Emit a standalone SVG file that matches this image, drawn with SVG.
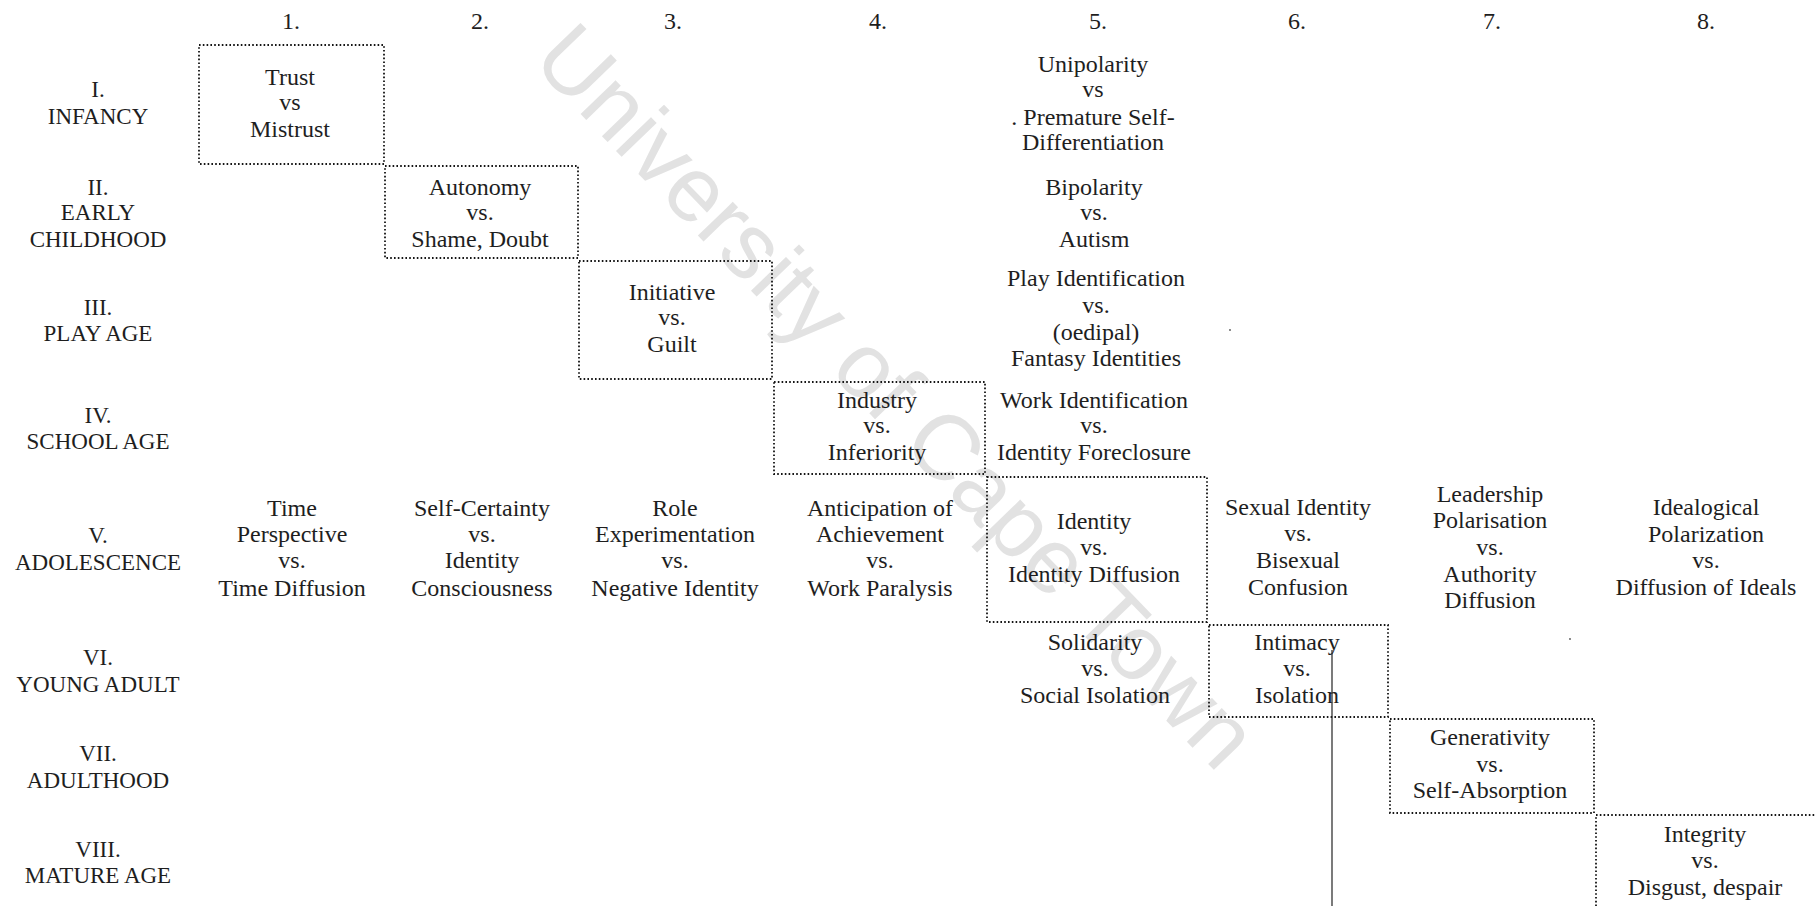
<svg xmlns="http://www.w3.org/2000/svg" width="1815" height="906" viewBox="0 0 1815 906">
<style>
text{font-family:"Liberation Serif","Times New Roman",serif;fill:#1e1e1e;text-anchor:middle}
.c{font-size:24px}
.r{font-size:23px}
.h{font-size:24px}
.box{fill:none;stroke:#151515;stroke-width:1.8;stroke-dasharray:1.6 2.2}
.wm{font-family:"Liberation Sans",Arial,sans-serif;font-size:92px;fill:#e2e2e2}
.ln{stroke:#222;stroke-width:1.2;fill:none}
</style>
<rect width="1815" height="906" fill="#ffffff"/>
<g id="watermark"><text class="wm" transform="translate(874 418) rotate(46)" x="0" y="0">University of Cape Town</text></g>
<g id="headers" class="h">
<text x="291" y="29">1.</text>
<text x="480" y="29">2.</text>
<text x="673" y="29">3.</text>
<text x="878" y="29">4.</text>
<text x="1098" y="29">5.</text>
<text x="1297" y="29">6.</text>
<text x="1492" y="29">7.</text>
<text x="1706" y="29">8.</text>
</g>
<g id="rowlabels" class="r">
<text x="98" y="97">I.</text><text x="98" y="124">INFANCY</text>
<text x="98" y="195">II.</text><text x="98" y="220">EARLY</text><text x="98" y="247">CHILDHOOD</text>
<text x="98" y="315">III.</text><text x="98" y="341">PLAY AGE</text>
<text x="98" y="423">IV.</text><text x="98" y="449">SCHOOL AGE</text>
<text x="98" y="543">V.</text><text x="98" y="570">ADOLESCENCE</text>
<text x="98" y="665">VI.</text><text x="98" y="692">YOUNG ADULT</text>
<text x="98" y="761">VII.</text><text x="98" y="788">ADULTHOOD</text>
<text x="98" y="857">VIII.</text><text x="98" y="883">MATURE AGE</text>
</g>
<g id="trust" class="c">
<rect class="box" x="199" y="45" width="185" height="119"/>
<text x="290" y="85">Trust</text><text x="290" y="110">vs</text><text x="290" y="137">Mistrust</text>
</g>
<g id="autonomy" class="c">
<rect class="box" x="385" y="166" width="193" height="92"/>
<text x="480" y="195">Autonomy</text><text x="480" y="220">vs.</text><text x="480" y="247">Shame, Doubt</text>
</g>
<g id="initiative" class="c">
<rect class="box" x="579" y="261" width="193" height="118"/>
<text x="672" y="300">Initiative</text><text x="672" y="325">vs.</text><text x="672" y="352">Guilt</text>
</g>
<g id="industry" class="c">
<rect class="box" x="774" y="382" width="211" height="92"/>
<text x="877" y="408">Industry</text><text x="877" y="433">vs.</text><text x="877" y="460">Inferiority</text>
</g>
<g id="identity" class="c">
<rect class="box" x="987" y="477" width="220" height="145"/>
<text x="1094" y="529">Identity</text><text x="1094" y="555">vs.</text><text x="1094" y="582">Identity Diffusion</text>
</g>
<g id="intimacy" class="c">
<rect class="box" x="1209" y="625" width="179" height="92"/>
<text x="1297" y="650">Intimacy</text><text x="1297" y="676">vs.</text><text x="1297" y="703">Isolation</text>
</g>
<g id="generativity" class="c">
<rect class="box" x="1390" y="719" width="204" height="94"/>
<text x="1490" y="745">Generativity</text><text x="1490" y="772">vs.</text><text x="1490" y="798">Self-Absorption</text>
</g>
<g id="integrity" class="c">
<rect class="box" x="1596" y="815" width="260" height="120"/>
<text x="1705" y="842">Integrity</text><text x="1705" y="868">vs.</text><text x="1705" y="895">Disgust, despair</text>
</g>
<g id="unipolarity" class="c">
<text x="1093" y="72">Unipolarity</text><text x="1093" y="97">vs</text><text x="1093" y="125">. Premature Self-</text><text x="1093" y="150">Differentiation</text>
</g>
<g id="bipolarity" class="c">
<text x="1094" y="195">Bipolarity</text><text x="1094" y="220">vs.</text><text x="1094" y="247">Autism</text>
</g>
<g id="play-identification" class="c">
<text x="1096" y="286">Play Identification</text><text x="1096" y="313">vs.</text><text x="1096" y="340">(oedipal)</text><text x="1096" y="366">Fantasy Identities</text>
</g>
<g id="work-identification" class="c">
<text x="1094" y="408">Work Identification</text><text x="1094" y="433">vs.</text><text x="1094" y="460">Identity Foreclosure</text>
</g>
<g id="time-perspective" class="c">
<text x="292" y="516">Time</text><text x="292" y="542">Perspective</text><text x="292" y="568">vs.</text><text x="292" y="596">Time Diffusion</text>
</g>
<g id="self-certainty" class="c">
<text x="482" y="516">Self-Certainty</text><text x="482" y="542">vs.</text><text x="482" y="568">Identity</text><text x="482" y="596">Consciousness</text>
</g>
<g id="role-experimentation" class="c">
<text x="675" y="516">Role</text><text x="675" y="542">Experimentation</text><text x="675" y="568">vs.</text><text x="675" y="596">Negative Identity</text>
</g>
<g id="anticipation" class="c">
<text x="880" y="516">Anticipation of</text><text x="880" y="542">Achievement</text><text x="880" y="568">vs.</text><text x="880" y="596">Work Paralysis</text>
</g>
<g id="sexual-identity" class="c">
<text x="1298" y="515">Sexual Identity</text><text x="1298" y="541">vs.</text><text x="1298" y="568">Bisexual</text><text x="1298" y="595">Confusion</text>
</g>
<g id="leadership" class="c">
<text x="1490" y="502">Leadership</text><text x="1490" y="528">Polarisation</text><text x="1490" y="555">vs.</text><text x="1490" y="582">Authority</text><text x="1490" y="608">Diffusion</text>
</g>
<g id="idealogical" class="c">
<text x="1706" y="515">Idealogical</text><text x="1706" y="542">Polarization</text><text x="1706" y="568">vs.</text><text x="1706" y="595">Diffusion of Ideals</text>
</g>
<g id="solidarity" class="c">
<text x="1095" y="650">Solidarity</text><text x="1095" y="676">vs.</text><text x="1095" y="703">Social Isolation</text>
</g>
<g id="connectors">
<line class="ln" x1="1332" y1="650" x2="1332" y2="906"/>
</g>
<g id="specks" fill="#555">
<circle cx="1230" cy="330" r="0.9"/>
<circle cx="1570" cy="639" r="0.9"/>
</g>
</svg>
